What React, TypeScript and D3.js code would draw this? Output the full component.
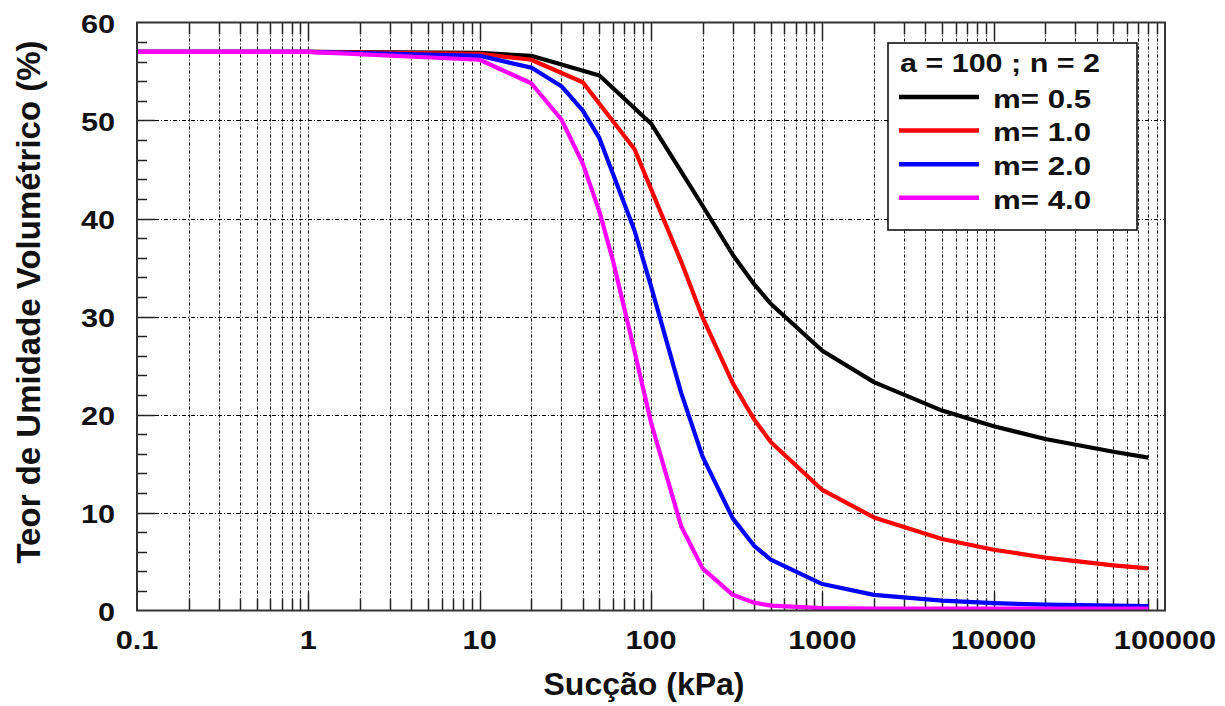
import React from 'react';
import * as d3 from 'd3';

// ---- data ----
const suctionBlack = [0.1, 1, 10, 20, 50, 100, 200, 300, 400, 500, 1000, 2000, 5000, 10000, 20000, 50000, 80000];
const thetaBlack = [57, 57, 56.9, 56.6, 54.6, 49.7, 41.3, 36.3, 33.3, 31.3, 26.5, 23.3, 20.4, 18.8, 17.5, 16.2, 15.6];

const suctionRed = [0.1, 1, 10, 20, 40, 80, 150, 200, 300, 400, 500, 1000, 2000, 5000, 10000, 20000, 50000, 80000];
const thetaRed = [57, 57, 56.8, 56.2, 53.9, 47.1, 35.6, 29.9, 23.2, 19.5, 17.2, 12.3, 9.5, 7.3, 6.2, 5.4, 4.6, 4.3];

const suctionBlue = [0.1, 1, 10, 20, 30, 40, 50, 80, 100, 150, 200, 300, 400, 500, 1000, 2000, 5000, 10000, 20000, 50000, 80000];
const thetaBlue = [57, 57, 56.6, 55.4, 53.5, 51.0, 48.2, 38.8, 33.1, 22.2, 15.7, 9.4, 6.6, 5.2, 2.7, 1.6, 1.0, 0.75, 0.6, 0.5, 0.45];

const suctionMagenta = [0.1, 1, 10, 20, 30, 40, 50, 60, 80, 100, 150, 200, 300, 400, 500, 1000, 2000, 5000, 10000, 20000, 50000, 80000];
const thetaMagenta = [57, 57, 56.2, 53.8, 50.1, 45.6, 40.7, 35.7, 26.5, 19.2, 8.6, 4.3, 1.6, 0.8, 0.5, 0.25, 0.2, 0.2, 0.2, 0.2, 0.2, 0.2];

const seriesLabels = ['m= 0.5', 'm= 1.0', 'm= 2.0', 'm= 4.0'];
const seriesColors = ['#000000', '#ff0000', '#0000ff', '#ff00ff'];
const xTickValues = [0.1, 1, 10, 100, 1000, 10000, 100000];
const xTickLabels = ['0.1', '1', '10', '100', '1000', '10000', '100000'];
const yTickValues = [0, 10, 20, 30, 40, 50, 60];
const legendTitle = 'a = 100 ; n = 2';
const xTitle = 'Sucção (kPa)';
const yTitle = 'Teor de Umidade Volumétrico (%)';

const FONT = '"Liberation Sans", Arial, Helvetica, sans-serif';

function SText({ x, y, sx = 1.18, size, anchor = 'start', children, rotate = 0 }: any) {
  return (
    <g transform={`translate(${x},${y}) rotate(${rotate}) scale(${sx},1)`}>
      <text
        x={0}
        y={0}
        fontFamily={FONT}
        fontWeight="bold"
        fontSize={size}
        textAnchor={anchor}
        dominantBaseline="central"
        fill="#111"
      >
        {children}
      </text>
    </g>
  );
}

const snap = (v: number) => Math.round(v) + 0.5;

export default function App() {
  const W = 1225;
  const H = 706;
  const x = d3.scaleLog().domain([0.1, 100000]).range([137, 1165]);
  const y = d3.scaleLinear().domain([0, 60]).range([610.5, 22.5]);
  const left = 137, right = 1165, top = 22.5, bottom = 610.5;

  const series = [
    { xs: suctionBlack, ys: thetaBlack },
    { xs: suctionRed, ys: thetaRed },
    { xs: suctionBlue, ys: thetaBlue },
    { xs: suctionMagenta, ys: thetaMagenta },
  ];

  const line = d3
    .line<[number, number]>()
    .x((d) => x(d[0]))
    .y((d) => y(d[1]))
    .curve(d3.curveLinear);

  const minorX: number[] = [];
  const majorX: number[] = [];
  for (let e = -1; e <= 4; e++) {
    const base = Math.pow(10, e);
    for (let k = 1; k <= 9; k++) {
      const v = +(base * k).toPrecision(6);
      if (k === 1) {
        if (e > -1) majorX.push(v);
      } else minorX.push(v);
    }
  }
  const gridY = [10, 20, 30, 40, 50];
  const minorY = d3.range(2, 60, 2).filter((v) => v % 10 !== 0);

  const dashV = '3,2,1,2';
  const dashH = '4,2,1,2';

  return (
    <svg width={W} height={H} style={{ position: 'absolute', left: 0, top: 0, background: '#fff' }}>
      <rect x={0} y={0} width={W} height={H} fill="#fff" />
      {[...minorX, ...majorX].map((v, i) => (
        <line key={'gv' + i} x1={snap(x(v))} x2={snap(x(v))} y1={top} y2={bottom} stroke="#000" strokeWidth={1} strokeDasharray={dashV} />
      ))}
      {gridY.map((v, i) => (
        <line key={'gh' + i} x1={left} x2={right} y1={snap(y(v))} y2={snap(y(v))} stroke="#000" strokeWidth={1} strokeDasharray={dashH} />
      ))}
      {minorX.map((v, i) => (
        <g key={'mx' + i}>
          <line x1={snap(x(v))} x2={snap(x(v))} y1={bottom} y2={bottom - 12} stroke="#222" strokeWidth={1.5} />
          <line x1={snap(x(v))} x2={snap(x(v))} y1={top} y2={top + 12} stroke="#222" strokeWidth={1.5} />
        </g>
      ))}
      {majorX.map((v, i) => (
        <g key={'Mx' + i}>
          <line x1={snap(x(v))} x2={snap(x(v))} y1={bottom} y2={bottom - 18} stroke="#222" strokeWidth={1.5} />
          <line x1={snap(x(v))} x2={snap(x(v))} y1={top} y2={top + 18} stroke="#222" strokeWidth={1.5} />
        </g>
      ))}
      {minorY.map((v, i) => (
        <line key={'my' + i} x1={left} x2={left + 10} y1={snap(y(v))} y2={snap(y(v))} stroke="#222" strokeWidth={1.5} />
      ))}
      {gridY.map((v, i) => (
        <line key={'My' + i} x1={left} x2={left + 18} y1={snap(y(v))} y2={snap(y(v))} stroke="#222" strokeWidth={1.5} />
      ))}
      {series.map((s, i) => (
        <path
          key={'s' + i}
          d={line(s.xs.map((v, j) => [v, s.ys[j]] as [number, number])) || ''}
          fill="none"
          stroke={seriesColors[i]}
          strokeWidth={4.2}
          strokeLinejoin="round"
        />
      ))}
      <rect x={left} y={top} width={right - left} height={bottom - top} fill="none" stroke="#333" strokeWidth={2} />
      {yTickValues.map((v, i) => (
        <SText key={'yl' + i} x={115} y={y(v) + 1} size={26} anchor="end">
          {String(v)}
        </SText>
      ))}
      {xTickValues.map((v, i) => (
        <SText key={'xl' + i} x={x(v)} y={640} size={26} anchor="middle">
          {xTickLabels[i]}
        </SText>
      ))}
      <SText x={644} y={684} size={32} sx={1.0} anchor="middle">
        {xTitle}
      </SText>
      <SText x={28} y={302} size={33} sx={1.0} anchor="middle" rotate={-90}>
        {yTitle}
      </SText>
      <rect x={888} y={43} width={249} height={187} fill="#fff" stroke="#111" strokeWidth={1.6} />
      <SText x={900} y={63} size={25} sx={1.22} anchor="start">
        {legendTitle}
      </SText>
      {seriesLabels.map((lab, i) => {
        const ly = 97 + i * 33.6;
        return (
          <g key={'lg' + i}>
            <line x1={899} x2={979} y1={ly} y2={ly} stroke={seriesColors[i]} strokeWidth={4.5} />
            <SText x={993} y={ly + 2} size={25} sx={1.25} anchor="start">
              {lab}
            </SText>
          </g>
        );
      })}
    </svg>
  );
}
